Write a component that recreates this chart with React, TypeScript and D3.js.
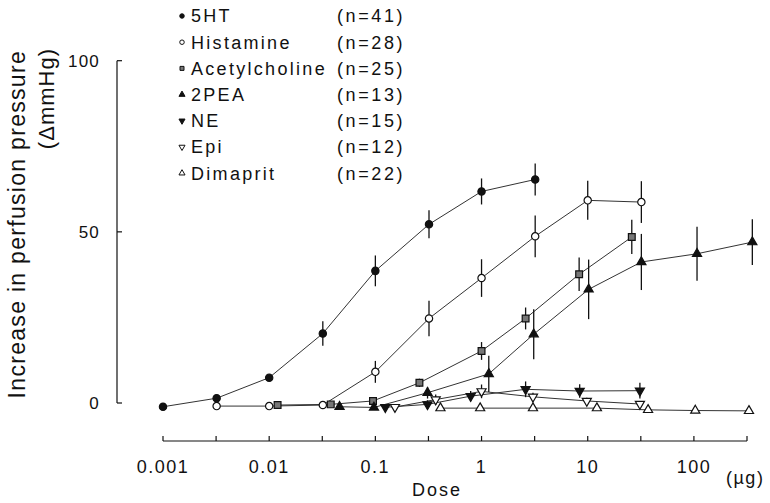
import React from "react"
import * as d3 from "d3"

// legend
const seriesNames = ["5HT", "Histamine", "Acetylcholine", "2PEA", "NE", "Epi", "Dimaprit"]
const seriesN = [41, 28, 25, 13, 15, 12, 22]

// dose (µg), mean increase (ΔmmHg), SEM
const dose5HT = [0.001, 0.0032, 0.01, 0.032, 0.1, 0.32, 1, 3.2]
const mean5HT = [-1.1, 1.4, 7.4, 20.3, 38.6, 52.2, 61.8, 65.3]
const sem5HT = [0, 0, 0, 3.6, 4.5, 4.1, 3.8, 4.7]

const doseHist = [0.0032, 0.01, 0.032, 0.1, 0.32, 1, 3.2, 10, 32]
const meanHist = [-0.9, -0.9, -0.6, 9.1, 24.7, 36.5, 48.7, 59.2, 58.7]
const semHist = [0, 0, 0, 3.2, 5.2, 5.5, 6.1, 5.7, 6.1]

const doseAch = [0.012, 0.038, 0.095, 0.26, 1.0, 2.6, 8.3, 26]
const meanAch = [-0.6, -0.4, 0.6, 5.9, 15.2, 24.7, 37.6, 48.5]
const semAch = [0, 0, 0, 1.2, 2.6, 3.2, 4.9, 5.0]

const dosePEA = [0.046, 0.097, 0.31, 1.17, 3.1, 10.2, 32, 107, 355]
const meanPEA = [-1.1, -1.3, 3.0, 8.5, 20.1, 33.2, 41.2, 43.6, 47.0]
const semPEA = [0, 0, 1.7, 5.3, 7.3, 8.7, 8.2, 7.9, 6.7]

const doseNE = [0.124, 0.31, 0.79, 2.6, 8.4, 31]
const meanNE = [-1.25, -0.4, 2.0, 4.0, 3.5, 3.6]
const semNE = [0, 1.2, 1.5, 2.3, 2.0, 2.3]

const doseEpi = [0.153, 0.37, 1.0, 3.05, 9.8, 31]
const meanEpi = [-1.2, 1.0, 3.4, 1.8, 0.6, -0.3]
const semEpi = [0, 1.5, 2.0, 1.2, 0.9, 0.9]

const doseDim = [0.41, 0.97, 3.05, 12.2, 37, 103, 330]
const meanDim = [-1.5, -1.5, -1.5, -1.5, -2.0, -2.2, -2.3]
const semDim = [0, 0, 0, 0, 0, 0, 0]

const xTickLabels = ["0.001", "0.01", "0.1", "1", "10", "100"]
const yTickValues = [0, 50, 100]

const FONT = "'Liberation Sans', Arial, Helvetica, sans-serif"
const INK = "#111"

// marker styles per series (shape, filled)
const markers = [
  { type: d3.symbolCircle, fill: INK, rot: 0 },
  { type: d3.symbolCircle, fill: "#fff", rot: 0 },
  { type: d3.symbolSquare, fill: "#777", rot: 0 },
  { type: d3.symbolTriangle, fill: INK, rot: 0 },
  { type: d3.symbolTriangle, fill: INK, rot: 180 },
  { type: d3.symbolTriangle, fill: "#fff", rot: 180 },
  { type: d3.symbolTriangle, fill: "#fff", rot: 0 },
]

export default function App() {
  const width = 770
  const height = 503

  const x = d3.scaleLog().domain([0.001, Math.pow(10, 2.5)]).range([163, 747])
  const y = d3.scaleLinear().domain([0, 100]).range([403, 60.7])
  const xAxisY = 441
  const yAxisX = 117

  const table = [
    [dose5HT, mean5HT, sem5HT],
    [doseHist, meanHist, semHist],
    [doseAch, meanAch, semAch],
    [dosePEA, meanPEA, semPEA],
    [doseNE, meanNE, semNE],
    [doseEpi, meanEpi, semEpi],
    [doseDim, meanDim, semDim],
  ].map(([d, m, s], i) => ({
    name: seriesNames[i],
    n: seriesN[i],
    points: d.map((v, j) => ({ dose: v, mean: m[j], sem: s[j] })),
  }))

  const line = d3
    .line<{ dose: number; mean: number }>()
    .x((p) => x(p.dose))
    .y((p) => y(p.mean))

  // half-decade ticks
  const halfTicks = d3.range(-6, 6).map((k) => Math.pow(10, k / 2))

  const sym = (i: number, size: number) => d3.symbol().type(markers[i].type).size(size)()

  const markSize = (i: number) => (markers[i].type === d3.symbolCircle ? 42 : markers[i].type === d3.symbolSquare ? 46 : 36)

  return (
    <svg width={width} height={height} style={{ position: "absolute", left: 0, top: 0, background: "#fff" }} fontFamily={FONT}>
      {/* y axis */}
      <line x1={yAxisX} x2={yAxisX} y1={y(100)} y2={y(0)} stroke={INK} strokeWidth={1.2} />
      {yTickValues.map((t) => (
        <g key={t}>
          <line x1={yAxisX} x2={yAxisX + 5} y1={y(t)} y2={y(t)} stroke={INK} strokeWidth={1.2} />
          <text x={100} y={y(t)} dy="0.36em" textAnchor="end" fontSize={17} letterSpacing={1.2} fill={INK}>
            {t}
          </text>
        </g>
      ))}

      {/* x axis */}
      <line x1={x(0.001)} x2={x(Math.pow(10, 2.5))} y1={xAxisY} y2={xAxisY} stroke={INK} strokeWidth={1.2} />
      {halfTicks.map((t, i) => (
        <line key={i} x1={x(t)} x2={x(t)} y1={xAxisY} y2={xAxisY - 5} stroke={INK} strokeWidth={1.2} />
      ))}
      {xTickLabels.map((l) => (
        <text key={l} x={x(+l)} y={473} textAnchor="middle" fontSize={18} letterSpacing={1.5} fill={INK}>
          {l}
        </text>
      ))}
      <text x={437} y={496} textAnchor="middle" fontSize={18} letterSpacing={2} fill={INK}>
        Dose
      </text>
      <text x={726} y={484} fontSize={18} letterSpacing={1.5} fill={INK}>
        (µg)
      </text>

      {/* y title */}
      <text transform="translate(25,50) rotate(-90)" textAnchor="end" fontSize={23} letterSpacing={1.3} fill={INK}>
        Increase in perfusion pressure
      </text>
      <text transform="translate(54,48) rotate(-90)" textAnchor="end" fontSize={22} letterSpacing={1} fill={INK}>
        (ΔmmHg)
      </text>

      {/* lines */}
      {table.map((s, i) => (
        <path key={s.name} d={line(s.points) || ""} fill="none" stroke="#333" strokeWidth={1} />
      ))}

      {/* error bars */}
      {table.map((s) =>
        s.points
          .filter((p) => p.sem > 0)
          .map((p, j) => (
            <line
              key={s.name + j}
              x1={x(p.dose)}
              x2={x(p.dose)}
              y1={y(p.mean + p.sem)}
              y2={y(p.mean - p.sem)}
              stroke={INK}
              strokeWidth={1.3}
            />
          ))
      )}

      {/* markers */}
      {table.map((s, i) =>
        s.points.map((p, j) => (
          <path
            key={s.name + "m" + j}
            d={sym(i, markSize(i)) || ""}
            transform={`translate(${x(p.dose)},${y(p.mean)}) rotate(${markers[i].rot})`}
            fill={markers[i].fill}
            stroke={INK}
            strokeWidth={1.2}
          />
        ))
      )}

      {/* legend */}
      {table.map((s, i) => {
        const ly = 16 + i * 26.2
        return (
          <g key={"lg" + s.name}>
            <path
              d={sym(i, 16) || ""}
              transform={`translate(182,${ly}) rotate(${markers[i].rot})`}
              fill={markers[i].fill}
              stroke={INK}
              strokeWidth={1}
            />
            <text x={191} y={ly} dy="0.36em" fontSize={18} letterSpacing={2.3} fill={INK}>
              {s.name}
            </text>
            <text x={337} y={ly} dy="0.36em" fontSize={18} letterSpacing={2.6} fill={INK}>
              {`(n=${s.n})`}
            </text>
          </g>
        )
      })}
    </svg>
  )
}
